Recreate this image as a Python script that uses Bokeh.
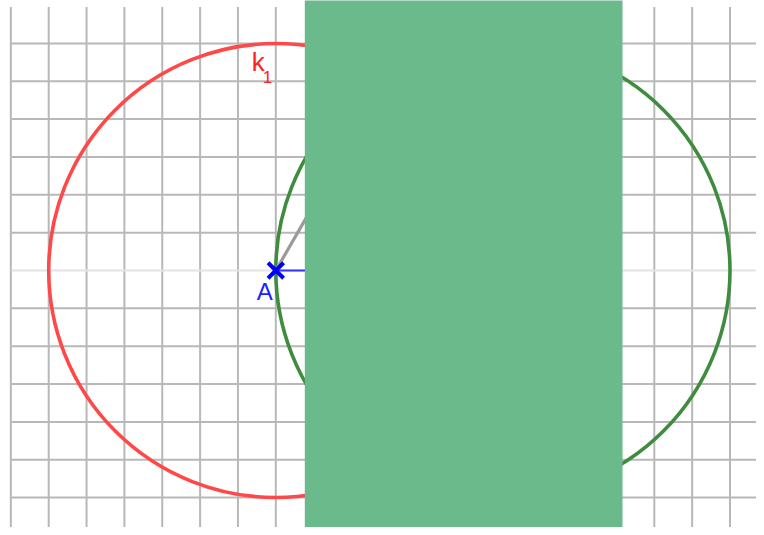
import numpy as np
from bokeh.plotting import figure
from bokeh.models import Range1d
from bokeh.core.properties import value
from bokeh.embed import file_html
from bokeh.resources import INLINE

# Data: construction points (grid units)
point_names = ["A", "B"]
point_x = [0.0, 6.0]
point_y = [0.0, 0.0]
grid_x_ticks = list(range(-7, 14))
grid_y_ticks = list(range(-7, 8))

A = np.array([point_x[0], point_y[0]])
B = np.array([point_x[1], point_y[1]])
r = float(np.hypot(*(B - A)))
# upper intersection of the two circles
mid = (A + B) / 2
h = np.sqrt(r**2 - (r / 2) ** 2)
C = mid + np.array([0.0, h])

W, H = 756, 527
scale = 37.85
Apx = (275.3, 270.0)
x0 = (0 - Apx[0]) / scale
x1 = x0 + W / scale
y1 = (Apx[1] - 0) / scale
y0 = y1 - H / scale

p = figure(width=W, height=H, output_backend="svg", toolbar_location=None,
           x_range=Range1d(x0, x1), y_range=Range1d(y0, y1),
           min_border=0, min_border_left=0, min_border_right=0,
           min_border_top=0, min_border_bottom=0)
p.axis.visible = False
p.grid.visible = False
p.outline_line_color = None
p.background_fill_color = "white"
p.border_fill_color = "white"

gcol = "#b8b8b8"
top_lim = (Apx[1] - 6.5) / scale
left_lim = (11.0 - Apx[0]) / scale
# vertical grid lines
vx = [t for t in grid_x_ticks]
p.segment(x0=vx, y0=[y0 - 1] * len(vx), x1=vx, y1=[top_lim] * len(vx),
          line_color=gcol, line_width=2)
# horizontal grid lines (y=0 lighter)
hy = [t for t in grid_y_ticks if t != 0 and t < top_lim]
p.segment(x0=[left_lim] * len(hy), y0=hy, x1=[x1 + 1] * len(hy), y1=hy,
          line_color=gcol, line_width=2)
p.segment(x0=[left_lim], y0=[0], x1=[x1 + 1], y1=[0],
          line_color="#e3e3e3", line_width=2)

# circles
p.circle(x=[A[0]], y=[A[1]], radius=r, fill_color=None,
         line_color="#ff4848", line_width=3.6)
p.circle(x=[B[0]], y=[B[1]], radius=r, fill_color=None,
         line_color="#3f8c3f", line_width=3.6)

# segments
p.line(x=[A[0], C[0]], y=[A[1], C[1]], line_color="#9a9a9a", line_width=3.2)
p.line(x=[A[0], B[0]], y=[A[1], B[1]], line_color="#3333ff", line_width=1.8)

# point A
p.scatter(x=[A[0]], y=[A[1]], marker="x", size=22, line_color="#0000ff", line_width=4)
p.text(x=[A[0]], y=[A[1]], text=[point_names[0]], x_offset=-19, y_offset=34,
       text_color="#2020ff", text_font=value("Liberation Sans"),
       text_font_size="24px", text_baseline="bottom", text_align="left")

# k1 label
p.text(x=[A[0]], y=[A[1] + r], text=["k"], x_offset=-24, y_offset=34,
       text_color="#ff2020", text_font=value("Liberation Sans"),
       text_font_size="26px", text_baseline="bottom", text_align="left")
p.text(x=[A[0]], y=[A[1] + r], text=["1"], x_offset=-13, y_offset=40,
       text_color="#ff2020", text_font=value("Liberation Sans"),
       text_font_size="17px", text_baseline="bottom", text_align="left")

# masking rectangle
rl = (304.3 - Apx[0]) / scale
rr = (622.0 - Apx[0]) / scale
p.quad(left=[rl], right=[rr], bottom=[y0 - 1], top=[y1 + 1],
       fill_color="#6aba8c", line_color=None)

open("out.html", "w").write(file_html(p, INLINE))
